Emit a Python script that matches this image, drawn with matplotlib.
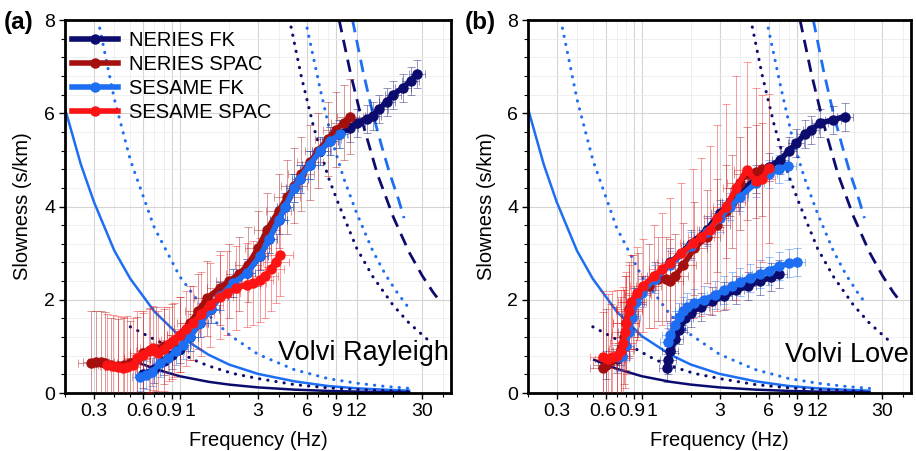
import numpy as np
import matplotlib
matplotlib.use("Agg")
import matplotlib.pyplot as plt
import matplotlib.transforms as mtransforms
from matplotlib.ticker import FixedLocator, FixedFormatter, LogLocator, MultipleLocator, NullFormatter
from matplotlib.lines import Line2D

plt.rcParams['font.family'] = ['Liberation Sans', 'DejaVu Sans']

NAVY = '#0c0c6e'
DARKRED = '#a5100f'
BLUE = '#1d6ef2'
RED = '#fc1414'

# array resolution / aliasing limits (same in both panels)
sesame_kmin_f = [0.2, 0.25, 0.3, 0.4, 0.5, 0.7, 1.0, 1.5, 2, 3, 5, 8, 12, 18, 25]
sesame_kmin_s = [6.1, 4.9, 4.1, 3.05, 2.45, 1.75, 1.22, 0.82, 0.61, 0.41, 0.25, 0.15, 0.10, 0.07, 0.05]
neries_kmin_f = [0.51, 0.7, 1, 1.5, 2, 3, 5, 8, 12, 18, 25]
neries_kmin_s = [0.71, 0.52, 0.36, 0.24, 0.18, 0.12, 0.072, 0.045, 0.03, 0.02, 0.014]
sesame_k2_f = [0.318, 0.4, 0.5, 0.7, 1, 1.5, 2, 3, 5, 8, 12, 18, 25]
sesame_k2_s = [8.0, 6.3, 5.0, 3.55, 2.5, 1.67, 1.25, 0.83, 0.5, 0.31, 0.21, 0.14, 0.10]
neries_k2_f = [0.5, 0.7, 0.87, 1.2, 1.5, 2.1, 3, 5, 8, 12, 18, 25]
neries_k2_s = [1.42, 1.15, 0.99, 0.72, 0.58, 0.42, 0.31, 0.18, 0.11, 0.075, 0.05, 0.035]
neries_kmax2_f = [4.77, 5.5, 6.5, 8, 9.3, 12, 15, 20, 25, 30, 34]
neries_kmax2_s = [7.85, 6.8, 5.75, 4.65, 4.05, 3.1, 2.5, 1.88, 1.5, 1.25, 1.08]
sesame_kmax2_f = [5.83, 7.2, 8.5, 10, 12, 15, 18, 21, 24.2]
sesame_kmax2_s = [8.0, 6.5, 5.4, 4.6, 3.85, 3.05, 2.53, 2.17, 1.88]
neries_kmax_f = [9.37, 11, 13, 16, 20, 25, 30, 35, 38.7]
neries_kmax_s = [8.0, 6.85, 5.8, 4.7, 3.78, 3.02, 2.52, 2.16, 1.96]
sesame_kmax_f = [11.3, 13, 15, 17, 19, 21.6, 23.3]
sesame_kmax_s = [8.0, 6.95, 6.0, 5.3, 4.72, 4.14, 3.75]

# error sizes
fk_s_err = 0.3
fk_f_rel = 0.12
spac_f_rel = 0.2

# (a) Volvi Rayleigh
a_nfk_f = [0.6, 0.7, 0.8, 0.9, 1.0, 1.15, 1.33, 1.55, 1.76, 2.1, 2.56, 3.08, 3.5, 4.0, 4.4, 5.0, 5.4, 6.2,
           7.2, 8.2, 9.3, 10.9, 12, 13.8, 15, 16.5, 18.3, 20, 23, 25.5, 27.9]
a_nfk_s = [0.4, 0.52, 0.68, 0.82, 0.95, 1.2, 1.5, 1.8, 2.07, 2.35, 2.57, 2.93, 3.3, 3.7, 4.0, 4.4, 4.6, 4.9,
           5.2, 5.4, 5.55, 5.68, 5.8, 5.88, 5.95, 6.1, 6.25, 6.4, 6.55, 6.7, 6.85]
a_nspac_f = [0.29, 0.31, 0.33, 0.35, 0.38, 0.42, 0.46, 0.5, 0.55, 0.6, 0.66, 0.72, 0.8, 0.9, 1.0, 1.15, 1.3,
             1.46, 1.75, 2.0, 2.3, 2.6, 3.0, 3.4, 4.0, 4.5, 5.0, 5.5, 6.2, 7.0, 8.0, 9.0, 10.0, 10.9]
a_nspac_s = [0.65, 0.66, 0.66, 0.64, 0.6, 0.58, 0.6, 0.65, 0.72, 0.85, 0.92, 0.95, 1.0, 1.1, 1.25, 1.5, 1.75,
             2.03, 2.25, 2.4, 2.55, 2.75, 3.1, 3.5, 3.9, 4.2, 4.45, 4.7, 4.95, 5.2, 5.45, 5.65, 5.8, 5.93]
a_nspac_e = [1.1, 1.1, 1.1, 1.1, 1.0, 1.0, 1.0, 0.9, 0.9, 0.9, 0.9, 0.9, 0.8, 0.8, 0.8, 0.8, 0.8,
             0.8, 0.8, 0.8, 0.8, 0.8, 0.8, 0.8, 0.8, 0.8, 0.8, 0.8, 0.8, 0.8, 0.8, 0.8, 0.8, 0.8]
a_sfk_f = [0.57, 0.62, 0.68, 0.76, 0.85, 0.95, 1.05, 1.15, 1.33, 1.55, 1.76, 2.1, 2.56, 3.08, 3.5, 4.0, 4.4,
           5.0, 5.4, 6.2, 7.2, 8.2, 9.5]
a_sfk_s = [0.35, 0.38, 0.45, 0.64, 0.75, 0.9, 1.02, 1.2, 1.5, 1.8, 2.07, 2.35, 2.57, 2.93, 3.3, 3.7, 4.0,
           4.4, 4.6, 4.9, 5.2, 5.4, 5.55]
a_sspac_f = [0.36, 0.39, 0.42, 0.45, 0.48, 0.52, 0.55, 0.6, 0.65, 0.69, 0.74, 0.8, 0.86, 0.92, 1.0, 1.1,
             1.21, 1.35, 1.53, 1.75, 1.94, 2.2, 2.56, 2.8, 3.08, 3.3, 3.6, 3.85, 4.1]
a_sspac_s = [0.6, 0.58, 0.55, 0.53, 0.55, 0.6, 0.75, 0.82, 0.9, 0.96, 0.85, 0.95, 1.05, 1.14, 1.25, 1.38,
             1.5, 1.7, 1.88, 2.05, 2.14, 2.25, 2.32, 2.36, 2.42, 2.5, 2.65, 2.82, 2.97]
a_sspac_e = [1.1, 1.1, 1.1, 1.1, 1.1, 1.0, 1.0, 0.9, 0.9, 0.9, 0.9, 0.9, 0.8, 0.8, 0.8, 0.8,
             0.8, 0.9, 0.9, 0.9, 0.9, 0.9, 0.9, 0.9, 0.9, 0.9, 0.9, 0.9, 0.9]

# (b) Volvi Love
b_nfk_f = [0.6, 0.7, 0.75, 0.8, 0.85, 0.9, 1.0, 1.2, 1.5, 2.0, 2.5, 3.0, 3.5, 4.0, 5.0, 6.0, 7.1, 8.0, 8.9,
           10.0, 10.9, 12.5, 15, 17.6]
b_nfk_s = [0.6, 0.72, 0.9, 1.3, 1.7, 1.95, 2.2, 2.5, 2.8, 3.2, 3.5, 3.85, 4.1, 4.3, 4.6, 4.85, 5.0, 5.2, 5.36,
           5.55, 5.64, 5.79, 5.86, 5.93]
b_nfk2_f = [1.42, 1.45, 1.5, 1.6, 1.7, 1.85, 2.0, 2.3, 2.7, 3.2, 3.8, 4.5, 5.3, 6.2, 7.0]
b_nfk2_s = [0.53, 0.7, 0.9, 1.15, 1.35, 1.6, 1.72, 1.85, 1.97, 2.08, 2.2, 2.3, 2.4, 2.48, 2.55]
b_nspac_f = [0.58, 0.6, 0.65, 0.7, 0.75, 0.78, 0.8, 0.83, 0.88, 0.95, 1.1, 1.25, 1.4, 1.5, 1.6, 1.8, 2.1,
             2.5, 2.9, 3.3, 3.6, 4.0, 4.4, 5.0, 5.5]
b_nspac_s = [0.53, 0.6, 0.7, 0.75, 0.95, 1.2, 1.5, 1.8, 1.95, 2.1, 2.3, 2.45, 2.45, 2.4, 2.5, 2.75, 3.1,
             3.35, 3.6, 3.9, 4.1, 4.5, 4.7, 4.75, 4.8]
b_nspac_e = [1.2, 1.2, 1.2, 1.1, 1.1, 1.0, 1.0, 1.0, 1.0, 0.9, 0.9, 0.9, 0.9, 0.9, 0.9, 0.9, 1.0,
             1.0, 1.0, 1.0, 1.0, 1.0, 1.0, 1.0, 1.0]
b_sfk_f = [0.72, 0.76, 0.8, 0.83, 0.87, 0.92, 1.0, 1.2, 1.5, 2.0, 2.5, 3.0, 3.5, 4.0, 5.0, 6.0, 7.0, 7.9]
b_sfk_s = [0.78, 0.8, 1.0, 1.3, 1.6, 1.95, 2.15, 2.45, 2.75, 3.15, 3.45, 3.75, 4.0, 4.2, 4.5, 4.7, 4.8, 4.86]
b_sfk2_f = [1.45, 1.5, 1.6, 1.7, 1.8, 1.9, 2.1, 2.4, 2.8, 3.2, 3.6, 4.0, 4.6, 5.3, 6.0, 7.0, 8.0, 9.0]
b_sfk2_s = [1.1, 1.25, 1.45, 1.62, 1.75, 1.85, 1.92, 2.0, 2.1, 2.2, 2.3, 2.38, 2.47, 2.55, 2.62, 2.72, 2.78, 2.8]
b_sspac_f = [0.58, 0.62, 0.66, 0.7, 0.74, 0.77, 0.79, 0.8, 0.83, 0.86, 0.93, 1.02, 1.18, 1.33, 1.49, 1.75,
             2.07, 2.3, 2.63, 2.9, 3.3, 3.8, 4.4, 5.0, 5.5, 6.0]
b_sspac_s = [0.78, 0.72, 0.78, 0.8, 0.9, 1.07, 1.3, 1.5, 1.75, 1.95, 2.14, 2.3, 2.5, 2.65, 2.78, 3.0,
             3.21, 3.35, 3.5, 3.75, 4.0, 4.4, 4.79, 4.55, 4.6, 4.82]
b_sspac_e = [1.4, 1.4, 1.4, 1.4, 1.3, 1.2, 1.2, 1.1, 1.0, 1.0, 1.0, 1.0, 1.1, 1.2, 1.4, 1.5,
             1.6, 1.7, 1.8, 2.0, 2.2, 2.4, 2.3, 2.0, 1.8, 1.6]

xticks = [0.3, 0.6, 0.9, 1, 3, 6, 9, 12, 30]
xticklabels = ['0.3', '0.6', '0.9', '1', '3', '6', '9', '12', '30']
# small sideways nudges (px) of crowded tick labels, as in the original
xtick_nudge = [0, -3, -3, 10, 0, 0, 0, 0, 0]


def draw_limits(ax):
    ax.plot(sesame_kmin_f, sesame_kmin_s, '-', color=BLUE, lw=1.8, zorder=2)
    ax.plot(neries_kmin_f, neries_kmin_s, '-', color=NAVY, lw=1.8, zorder=2)
    for f, s, c in [(sesame_k2_f, sesame_k2_s, BLUE), (neries_k2_f, neries_k2_s, NAVY),
                    (neries_kmax2_f, neries_kmax2_s, NAVY), (sesame_kmax2_f, sesame_kmax2_s, BLUE)]:
        ax.plot(f, s, color=c, lw=2.2, ls=(0, (0.1, 2.6)), dash_capstyle='round', zorder=2)
    ax.plot(neries_kmax_f, neries_kmax_s, color=NAVY, lw=2.0, ls=(0, (4.5, 2.8)), zorder=2)
    ax.plot(sesame_kmax_f, sesame_kmax_s, color=BLUE, lw=2.0, ls=(0, (4.5, 2.8)), zorder=2)


def draw_errors(ax, f, s, serr, frel, color):
    f = np.array(f)
    ax.errorbar(f, s, yerr=serr, xerr=[f - f / (1 + frel), f * frel], fmt='none',
                ecolor=color, elinewidth=0.6, capsize=3, capthick=0.6, alpha=0.5, zorder=3)


def draw_curve(ax, f, s, color):
    ax.plot(f, s, '-o', color=color, lw=4, ms=6.5, mec=color, zorder=5)


def style_axes(ax):
    ax.set_xscale('log')
    ax.set_xlim(0.2, 45)
    ax.set_ylim(0, 8)
    ax.xaxis.set_major_locator(FixedLocator(xticks))
    ax.xaxis.set_major_formatter(FixedFormatter(xticklabels))
    ax.xaxis.set_minor_locator(LogLocator(base=10, subs=np.arange(2, 10)))
    ax.xaxis.set_minor_formatter(NullFormatter())
    ax.yaxis.set_major_locator(MultipleLocator(2))
    ax.yaxis.set_minor_locator(MultipleLocator(0.4))
    ax.grid(which='major', color='#d4d4d4', lw=0.8, zorder=0)
    ax.grid(which='minor', color='#ececec', lw=0.6, zorder=0)
    ax.set_axisbelow(True)
    ax.tick_params(which='major', length=4, width=1, labelsize=14, pad=3)
    ax.tick_params(which='minor', length=3, width=0.8)
    for sp in ax.spines.values():
        sp.set_linewidth(2)
    ax.set_xlabel('Frequency (Hz)', fontsize=14.5, labelpad=8)
    ax.set_ylabel('Slowness (s/km)', fontsize=14.5)


fig = plt.figure(figsize=(9.16, 4.51), dpi=100)
ax1 = fig.add_axes([65 / 916, 58 / 451, 386 / 916, 373 / 451])
ax2 = fig.add_axes([528 / 916, 58 / 451, 383 / 916, 373 / 451])

for ax in (ax1, ax2):
    style_axes(ax)
    draw_limits(ax)

ax1.yaxis.set_label_coords(-0.085, 0.5)
ax2.yaxis.set_label_coords(-0.084, 0.5)

# panel a
draw_errors(ax1, a_nfk_f, a_nfk_s, fk_s_err, fk_f_rel, NAVY)
draw_errors(ax1, a_nspac_f, a_nspac_s, a_nspac_e, spac_f_rel, DARKRED)
draw_errors(ax1, a_sfk_f, a_sfk_s, fk_s_err, fk_f_rel, BLUE)
draw_errors(ax1, a_sspac_f, a_sspac_s, a_sspac_e, spac_f_rel, RED)
draw_curve(ax1, a_nfk_f, a_nfk_s, NAVY)
draw_curve(ax1, a_nspac_f, a_nspac_s, DARKRED)
draw_curve(ax1, a_sfk_f, a_sfk_s, BLUE)
draw_curve(ax1, a_sspac_f, a_sspac_s, RED)

# panel b
draw_errors(ax2, b_nfk_f, b_nfk_s, fk_s_err, fk_f_rel, NAVY)
draw_errors(ax2, b_nfk2_f, b_nfk2_s, fk_s_err, fk_f_rel, NAVY)
draw_errors(ax2, b_nspac_f, b_nspac_s, b_nspac_e, spac_f_rel, DARKRED)
draw_errors(ax2, b_sfk_f, b_sfk_s, fk_s_err, fk_f_rel, BLUE)
draw_errors(ax2, b_sfk2_f, b_sfk2_s, fk_s_err, fk_f_rel, BLUE)
draw_errors(ax2, b_sspac_f, b_sspac_s, b_sspac_e, spac_f_rel, RED)
draw_curve(ax2, b_nfk_f, b_nfk_s, NAVY)
draw_curve(ax2, b_nfk2_f, b_nfk2_s, NAVY)
draw_curve(ax2, b_nspac_f, b_nspac_s, DARKRED)
draw_curve(ax2, b_sfk_f, b_sfk_s, BLUE)
draw_curve(ax2, b_sfk2_f, b_sfk2_s, BLUE)
draw_curve(ax2, b_sspac_f, b_sspac_s, RED)

handles = [Line2D([], [], color=c, lw=4, marker='o', ms=6.5) for c in (NAVY, DARKRED, BLUE, RED)]
ax1.legend(handles, ['NERIES FK', 'NERIES SPAC', 'SESAME FK', 'SESAME SPAC'], loc='upper left',
           bbox_to_anchor=(0.018, 0.97), frameon=False, fontsize=14.5, numpoints=1,
           handlelength=2.3, handletextpad=0.55, labelspacing=0.24, borderpad=0, borderaxespad=0)

ax1.text(0.995, 0.088, 'Volvi Rayleigh', transform=ax1.transAxes, ha='right', va='baseline', fontsize=19.5)
ax2.text(0.995, 0.083, 'Volvi Love', transform=ax2.transAxes, ha='right', va='baseline', fontsize=19.5)

fig.text(4 / 916, 1 - 23 / 451, '(a)', fontsize=17.5, fontweight='bold', va='center', ha='left')
fig.text(465 / 916, 1 - 23 / 451, '(b)', fontsize=17.5, fontweight='bold', va='center', ha='left')

# shift the crowded labels 0.6 / 0.9 / 1 apart
for ax in (ax1, ax2):
    for tick, dx in zip(ax.xaxis.get_major_ticks(), xtick_nudge):
        if dx:
            off = mtransforms.ScaledTranslation(dx / 100, 0, fig.dpi_scale_trans)
            tick.label1.set_transform(tick.label1.get_transform() + off)

fig.savefig('out.png', dpi=100)
